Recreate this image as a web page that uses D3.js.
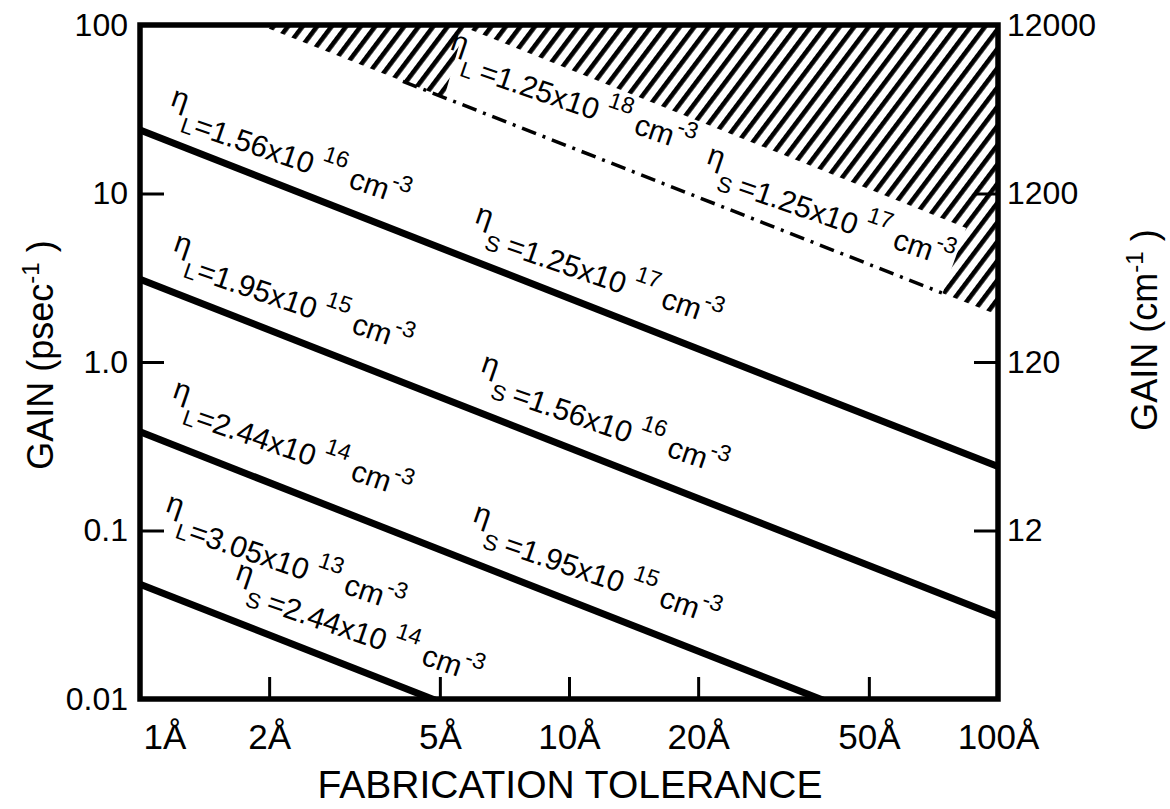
<!DOCTYPE html>
<html><head><meta charset="utf-8">
<script src="https://cdn.jsdelivr.net/npm/d3@7"></script>
<style>
html,body{margin:0;padding:0;background:#fff;}
text{font-family:"Liberation Sans",Arial,Helvetica,sans-serif;fill:#000;}
</style></head>
<body><svg id="chart" width="1170" height="809"></svg>
<script>
// ---------- data ----------
const tolerance = [1, 100];                 // Å, ends of every line
const gainLine1 = [23.8, 0.24];             // psec^-1
const gainLine2 = [3.1, 0.031];
const gainLine3 = [0.385, 0.00385];
const gainLine4 = [0.048, 0.00048];
const boundaryTol = [4.1, 74];              // dash-dot limit line
const boundaryGain = [46.3, 2.57];
const hatchTol = [1.9, 100, 100];           // region above the limit line
const hatchGain = [100, 1.9, 100];
const maskTol = [5.1, 5.7, 84.3, 73.7];     // white band behind top labels
const maskGain = [36, 97, 6.24, 2.43];

const yTickValues = [100, 10, 1, 0.1, 0.01];
const yTickLabels = ["100", "10", "1.0", "0.1", "0.01"];
const y2TickValues = [100, 10, 1, 0.1];
const y2TickLabels = ["12000", "1200", "120", "12"];
const xTickValues = [1, 2, 5, 10, 20, 50, 100];
const xTickLabels = ["1Å", "2Å", "5Å", "10Å", "20Å", "50Å", "100Å"];

const labelSub = ["L","S","L","S","L","S","L","S","L","S"];
const labelMantissa = ["1.56","1.25","1.95","1.56","2.44","1.95","3.05","2.44","1.25","1.25"];
const labelExponent = ["16","17","15","16","14","15","13","14","18","17"];
const labelTol = [1.131, 5.79, 1.149, 5.98, 1.143, 5.73, 1.101, 1.602, 5.07, 20.1];
const labelGain = [25.9, 5.22, 3.56, 0.682, 0.478, 0.0879, 0.1007, 0.0398, 55.6, 11.7];

// ---------- layout ----------
const L = 140, R = 998, T = 25, B = 699;
const svg = d3.select("#chart");
const x = d3.scaleLog().domain([1, 100]).range([L, R]);
const y = d3.scaleLog().domain([0.01, 100]).range([B, T]);

svg.append("rect").attr("width",1170).attr("height",809).attr("fill","#fff");

const defs = svg.append("defs");
defs.append("clipPath").attr("id","plotclip").append("rect")
  .attr("x",L).attr("y",T).attr("width",R-L).attr("height",B-T);
const pat = defs.append("pattern").attr("id","hatch").attr("patternUnits","userSpaceOnUse")
  .attr("width",11.6).attr("height",11.6).attr("patternTransform","rotate(37)");
pat.append("rect").attr("x",0).attr("y",0).attr("width",4.6).attr("height",11.6).attr("fill","#000");

const plot = svg.append("g").attr("clip-path","url(#plotclip)");

// hatched region
const poly = d3.line().x(d => x(d[0])).y(d => y(d[1]));
plot.append("path").attr("d", poly(d3.zip(hatchTol, hatchGain)) + "Z").attr("fill","url(#hatch)");
plot.append("path").attr("d", poly(d3.zip(maskTol, maskGain)) + "Z").attr("fill","#fff");

// solid lines
[gainLine1, gainLine2, gainLine3, gainLine4].forEach(g => {
  plot.append("path").attr("d", poly(d3.zip(tolerance, g)))
    .attr("fill","none").attr("stroke","#000").attr("stroke-width",7);
});
// dash-dot line
plot.append("path").attr("d", poly(d3.zip(boundaryTol, boundaryGain)))
  .attr("fill","none").attr("stroke","#000").attr("stroke-width",3.5)
  .attr("stroke-dasharray","15,7,3,7");

// labels
const angle = Math.atan2(y(gainLine1[1]) - y(gainLine1[0]), x(tolerance[1]) - x(tolerance[0])) * 180 / Math.PI - 2.5;
labelSub.forEach((s, i) => {
  const t = svg.append("text")
    .attr("transform", `translate(${x(labelTol[i])},${y(labelGain[i])}) rotate(${angle})`)
    .attr("font-size", 30);
  t.append("tspan").text("η").attr("dy", -20);
  t.append("tspan").text(s).attr("font-size", 22).attr("dy", 22).attr("dx", 1);
  t.append("tspan").text("=" + labelMantissa[i] + "x10").attr("dy", -2).attr("dx", (i % 2 === 1 || i === 8) ? 7 : 1);
  t.append("tspan").text(labelExponent[i]).attr("font-size", 23).attr("dy", -17).attr("dx", 7);
  t.append("tspan").text("cm").attr("dy", 17).attr("dx", 7);
  t.append("tspan").text("-3").attr("font-size", 23).attr("dy", -14).attr("dx", 1);
});

// axes
const yAxis = d3.axisLeft(y).tickValues(yTickValues)
  .tickFormat((d, i) => yTickLabels[i]).tickSizeInner(-24).tickSizeOuter(0).tickPadding(12);
const gy = svg.append("g").attr("transform",`translate(${L},0)`).call(yAxis);
const y2Axis = d3.axisRight(y).tickValues(y2TickValues)
  .tickFormat((d, i) => y2TickLabels[i]).tickSizeInner(-24).tickSizeOuter(0).tickPadding(9);
const gy2 = svg.append("g").attr("transform",`translate(${R},0)`).call(y2Axis);
const xAxis = d3.axisBottom(x).tickValues(xTickValues)
  .tickFormat((d, i) => xTickLabels[i]).tickSizeInner(-22).tickSizeOuter(0).tickPadding(25);
const gx = svg.append("g").attr("transform",`translate(0,${B})`).call(xAxis);
[gy, gy2, gx].forEach(g => {
  g.select(".domain").remove();
  g.selectAll(".tick line").attr("stroke","#000").attr("stroke-width",3);
  g.selectAll(".tick text").attr("font-size",32).attr("font-family",null).attr("fill","#000");
});
gx.selectAll(".tick text").attr("font-size",35);
gx.selectAll(".tick text").filter((d, i) => i === 0).attr("text-anchor","start").attr("x",3);

// frame
svg.append("rect").attr("x",L).attr("y",T).attr("width",R-L).attr("height",B-T)
  .attr("fill","none").attr("stroke","#000").attr("stroke-width",5.5);

// titles
const yt = svg.append("text").attr("transform","translate(53,355) rotate(-90)")
  .attr("text-anchor","middle").attr("font-size",36);
yt.append("tspan").text("GAIN (psec");
yt.append("tspan").text("-1").attr("font-size",24).attr("dy",-14);
yt.append("tspan").text(" )").attr("dy",14);

const yt2 = svg.append("text").attr("transform","translate(1157,330) rotate(-90)")
  .attr("text-anchor","middle").attr("font-size",36);
yt2.append("tspan").text("GAIN (cm");
yt2.append("tspan").text("-1").attr("font-size",24).attr("dy",-14);
yt2.append("tspan").text(" )").attr("dy",14);

svg.append("text").attr("x",570).attr("y",798).attr("text-anchor","middle")
  .attr("font-size",39).text("FABRICATION TOLERANCE");
</script></body></html>
